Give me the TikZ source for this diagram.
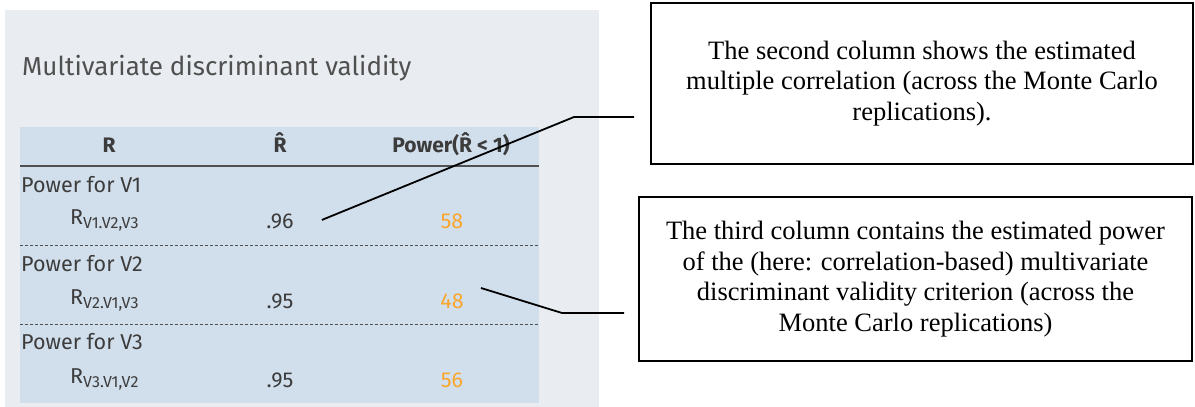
\documentclass[tikz,border=0pt]{standalone}
\usepackage{fontspec}
\setmainfont{Liberation Serif}
\newfontfamily\uifont{Fira Sans}
\usetikzlibrary{calc}
\definecolor{panelbg}{RGB}{233,237,242}
\definecolor{tablebg}{RGB}{209,222,235}
\definecolor{ink}{RGB}{60,60,60}
\definecolor{rule}{RGB}{80,80,80}
\definecolor{accent}{RGB}{250,166,45}
\tikzset{
  ui/.style={font=\uifont\fontsize{21.5}{24}\selectfont, text=ink, inner sep=0pt},
  uihead/.style={font=\uifont\bfseries\fontsize{21}{24}\selectfont, text=ink, inner sep=0pt, anchor=base},
  cell/.style={ui, anchor=base},
  rowlabel/.style={ui, anchor=base west},
  pct/.style={cell, text=accent},
  note/.style={draw=black, line width=1.8pt, align=center, inner sep=0pt,
    font=\fontsize{26.5}{30.5}\selectfont},
  leader/.style={draw=black, line width=1.8pt},
  sepline/.style={draw=rule, line width=0.9pt, dash pattern=on 3pt off 2pt},
}
\newcommand{\Rsub}[1]{R\raisebox{-4.5pt}{\fontsize{16}{18}\selectfont #1}}
\begin{document}
\begin{tikzpicture}[x=1pt,y=-1pt]
  \useasboundingbox (0,0) rectangle (1195,407);
  % results panel and table background
  \fill[panelbg] (5,10) rectangle (599,407);
  \fill[tablebg] (20,127) rectangle (539,403);
  \node[anchor=base west, inner sep=0pt, text=ink!90,
        font=\uifont\fontsize{26}{30}\selectfont] (title) at (22,75)
        {Multivariate discriminant validity};
  % header
  \node[uihead] (hR) at (109,152) {R};
  \node[uihead] (hRhat) at (280,152) {\^{R}};
  \node[uihead] (hPow) at (451,152) {Power(\^{R} < 1)};
  \draw[draw=rule, line width=1.2pt] (20,166) -- (539,166);
  % rows
  \node[rowlabel] (p1) at (21,192) {Power for V1};
  \node[rowlabel] (r1) at (70,224) {\Rsub{V1.V2,V3}};
  \node[cell] (e1) at (280,228) {.96};
  \node[pct] (w1) at (452,228) {58};
  \draw[sepline] (20,245) -- (539,245);
  \node[rowlabel] (p2) at (21,271) {Power for V2};
  \node[rowlabel] (r2) at (70,304) {\Rsub{V2.V1,V3}};
  \node[cell] (e2) at (280,308) {.95};
  \node[pct] (w2) at (452,308) {48};
  \draw[sepline] (20,324) -- (539,324);
  \node[rowlabel] (p3) at (21,349) {Power for V3};
  \node[rowlabel] (r3) at (70,383) {\Rsub{V3.V1,V2}};
  \node[cell] (e3) at (280,387) {.95};
  \node[pct] (w3) at (452,387) {56};
  % explanatory boxes
  \node[note, minimum width=542pt, minimum height=161pt] (box1) at (922,83.5)
    {The second column shows the estimated\\
     multiple correlation (across the Monte Carlo\\
     replications).};
  \node[note, minimum width=553pt, minimum height=164pt] (box2) at (915.5,279)
    {The third column contains the estimated power\\
     of the (here: correlation-based) multivariate\\
     discriminant validity criterion (across the\\
     Monte Carlo replications)};
  % leader lines
  \coordinate (a1) at ($(e1.east)+(28,-1)$);
  \coordinate (k1) at (574,117);
  \coordinate (t1) at ($(box1.west)+(-16,33.5)$);
  \draw[leader] (a1) -- (k1) -- (t1);
  \coordinate (a2) at (481,288);
  \coordinate (k2) at (562,313);
  \coordinate (t2) at ($(box2.west)+(-14,34)$);
  \draw[leader] (a2) -- (k2) -- (t2);
\end{tikzpicture}
\end{document}
